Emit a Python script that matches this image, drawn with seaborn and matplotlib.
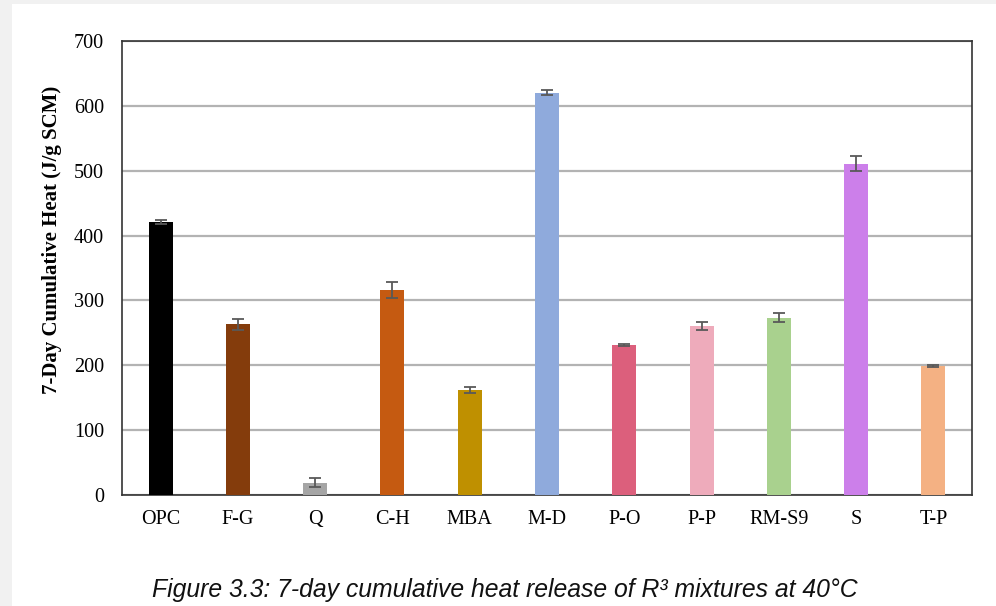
import matplotlib
matplotlib.use("Agg")
import matplotlib.pyplot as plt
import seaborn as sns
import pandas as pd
from matplotlib.patches import Rectangle

categories = ["OPC", "F-G", "Q", "C-H", "MBA", "M-D", "P-O", "P-P", "RM-S9", "S", "T-P"]
heat = [421, 263, 19, 316, 162, 620, 231, 261, 273, 511, 199]
err = [3, 8, 7, 12, 5, 4, 1.5, 6, 7, 11, 1.5]
colors = ["#000000", "#843C0C", "#A5A5A5", "#C55A11", "#BF9000", "#8FAADC",
          "#DC5F7C", "#EEABBB", "#A9D18E", "#CC7FEA", "#F4B183"]
yticks = [0, 100, 200, 300, 400, 500, 600, 700]

df = pd.DataFrame({"cat": categories, "heat": heat, "err": err})

sns.set_theme(style="white")
plt.rcParams["font.family"] = ["Liberation Serif", "DejaVu Serif"]

fig = plt.figure(figsize=(9.96, 6.06), dpi=100)
fig.patch.set_facecolor("#f1f1f1")
fig.patches.append(Rectangle((12 / 996, 0), 1, 1 - 4 / 606, transform=fig.transFigure,
                             facecolor="white", edgecolor="none", zorder=-10))

ax = fig.add_axes([122 / 996, 1 - 495 / 606, (972 - 122) / 996, (495 - 41) / 606])
ax.set_zorder(2)
ax.set_facecolor("white")

sns.barplot(data=df, x="cat", y="heat", hue="cat", palette=colors, legend=False,
            width=0.31, ax=ax, zorder=3, saturation=1, linewidth=0)
ax.errorbar(range(len(categories)), heat, yerr=err, fmt="none", ecolor="#595959",
            elinewidth=1.3, capsize=4, capthick=1.3, zorder=4)

ax.set_ylim(0, 700)
ax.set_xlim(-0.5, len(categories) - 0.5)
ax.set_yticks(yticks)
ax.set_yticklabels([str(t) for t in yticks])
ax.yaxis.grid(True, color="#b3b3b3", linewidth=1.6, zorder=0)
ax.set_axisbelow(True)
for s in ax.spines.values():
    s.set_visible(True)
    s.set_color("#333333")
    s.set_linewidth(1.2)
ax.tick_params(axis="y", labelsize=14.5, colors="black", length=0, pad=13)
ax.tick_params(axis="x", labelsize=14.5, colors="black", length=0, pad=11)
ax.set_xlabel("")
ax.set_ylabel("")
fig.text(52 / 996, 1 - 240 / 606, "7-Day Cumulative Heat (J/g SCM)", rotation=90,
         ha="center", va="center", fontsize=15, fontweight="bold", color="black")

fig.text(505 / 996, 1 - 590 / 606, "Figure 3.3: 7-day cumulative heat release of R³ mixtures at 40°C",
         ha="center", va="center", fontsize=17.8, style="italic",
         family=["Liberation Sans", "DejaVu Sans"], color="#111111", zorder=5)

fig.savefig("out.png", dpi=100)
